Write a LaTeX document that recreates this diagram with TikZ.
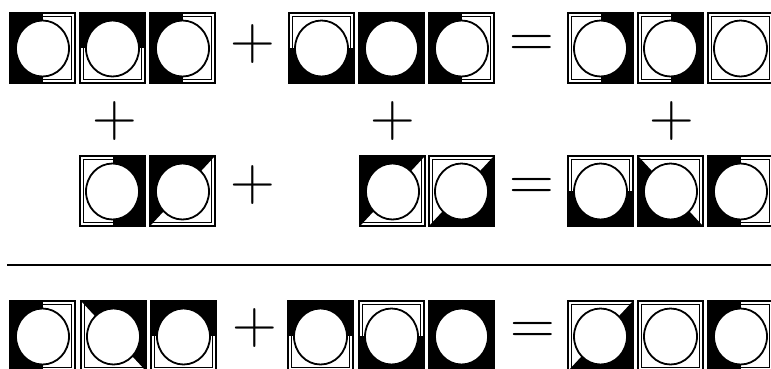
\documentclass[tikz,border=0pt]{standalone}

\tikzset{bord/.style={line width=1.1pt},ring/.style={draw,fill=white,line width=1.8pt},
  sym/.style={font=\fontsize{62}{62}\selectfont,inner sep=0pt}}
% black part of a tile, in tile coordinates (65 x 70, y down)
\newcommand\blkL{\fill(0,0)rectangle(32.5,70);}
\newcommand\blkR{\fill(32.5,0)rectangle(65,70);}
\newcommand\blkT{\fill(0,0)rectangle(65,35);}
\newcommand\blkB{\fill(0,35)rectangle(65,70);}
\newcommand\blkK{\fill(0,0)rectangle(65,70);}
\newcommand\blkW{}
\newcommand\blkUL{\fill(0,0)--(65,0)--(0,70)--cycle;}
\newcommand\blkLR{\fill(65,0)--(65,70)--(0,70)--cycle;}
\newcommand\blkUR{\fill(0,0)--(65,0)--(65,70)--cycle;}
\newcommand\blkLL{\fill(0,0)--(65,70)--(0,70)--cycle;}
\newcommand\puztile[3]{\begin{scope}[shift={(#1,#2)}]
\draw[bord](0,0)rectangle(65,70);
\draw[bord](3.3,3.3)rectangle(61.7,66.7);
\csname blk#3\endcsname
\draw[ring](32.5,35.5)ellipse[x radius=26.5,y radius=28];
\end{scope}}

\begin{document}
\begin{tikzpicture}[x=1pt,y=-1pt]
\useasboundingbox(0,0)rectangle(771,368);
% first sum
\foreach \x/\ty in {10/L,80/T,150/L,289/B,359/K,429/L,568/R,638/R,708/W}{\puztile{\x}{13}{\ty}}
\node[sym](plusA)at(253,44){+};
\node[sym](eqA)at(532,46){=};
% pluses between the rows
\node[sym](plusL)at(115,121){+};
\node[sym](plusM)at(393,121){+};
\node[sym](plusR)at(672,121){+};
% second sum
\foreach \x/\ty in {80/R,150/UL,360/UL,429/LR,568/B,638/LL,708/L}{\puztile{\x}{156}{\ty}}
\node[sym](plusB)at(253,185){+};
\node[sym](eqB)at(532,189){=};
% rule
\draw[line width=2.5pt](7,265)--(771,265);
% total
\foreach \x/\ty in {10/L,81/UR,151/T,288/T,359/B,429/K,568/LR,638/W,708/L}{\puztile{\x}{301}{\ty}}
\node[sym](plusC)at(255,328){+};
\node[sym](eqC)at(533,333){=};
\end{tikzpicture}
\end{document}
